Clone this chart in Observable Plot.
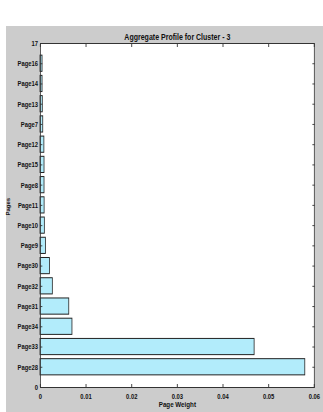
<!DOCTYPE html>
<html>
<head>
<meta charset="utf-8">
<script src="https://cdn.jsdelivr.net/npm/d3@7"></script>
<script src="https://cdn.jsdelivr.net/npm/@observablehq/plot@0.6"></script>
<style>
  html, body { margin: 0; padding: 0; background: #ffffff; }
  #wrap { position: relative; width: 323px; height: 412px; overflow: hidden; }
  #bg { position: absolute; left: 6px; top: 26px; right: 0; bottom: 0; background: #cccccc; }
  #chart { position: absolute; left: 0; top: 0; transform-origin: 0 0; }
  #chart svg { max-width: none !important; display: block; }
</style>
</head>
<body>
<div id="wrap"><div id="bg"></div><div id="chart"></div></div>
<script>
const title = "Aggregate Profile for Cluster - 3";
const xLabel = "Page Weight";
const yLabel = "Pages";
// bottom to top
const pages = ["Page28","Page33","Page34","Page31","Page32","Page30","Page9","Page10","Page11","Page8","Page15","Page12","Page7","Page13","Page14","Page16"];
const weights = [0.0580,0.0469,0.0070,0.0063,0.0027,0.0021,0.0012,0.00095,0.0009,0.00088,0.00088,0.00085,0.0006,0.0005,0.00045,0.00045];
const xTicks = [0,0.01,0.02,0.03,0.04,0.05,0.06];
const xTickLabels = ["0","0.01","0.02","0.03","0.04","0.05","0.06"];
const yTicks = d3.range(0, 18);
const yTickLabels = ["0", ...pages, "17"];

const data = pages.map((p, i) => ({page: p, pos: i + 1, w: weights[i]}));
const barHalf = 0.4;
const sx = 0.78; // horizontal compression of the original figure
const W = Math.round(323 / sx);
const font = "'Liberation Sans', Arial, Helvetica, sans-serif";

const chart = Plot.plot({
  width: W,
  height: 412,
  marginLeft: 40 / sx,
  marginRight: 9 / sx,
  marginTop: 43,
  marginBottom: 25,
  style: {background: "transparent", fontFamily: font, fontSize: "7.5px", fontWeight: "bold", color: "#111"},
  x: {domain: [0, 0.06]},
  y: {domain: [0, 17]},
  marks: [
    Plot.frame({fill: "white"}),
    Plot.rectX(data, {x1: 0, x2: "w", y1: d => d.pos - barHalf, y2: d => d.pos + barHalf, fill: "#b2ecfb", stroke: "#222", strokeWidth: 1}),
    Plot.axisX({anchor: "bottom", ticks: xTicks, tickSize: -3, tickPadding: 9, stroke: "#333",
      tickFormat: (d) => xTickLabels[xTicks.indexOf(d)] ?? "", label: null}),
    Plot.axisX({anchor: "top", ticks: xTicks, tickSize: -3, tickFormat: () => "", label: null, stroke: "#333"}),
    Plot.axisY({anchor: "left", ticks: yTicks, tickSize: -3, tickPadding: 6, stroke: "#333",
      tickFormat: (d) => yTickLabels[yTicks.indexOf(d)] ?? "", label: null}),
    Plot.axisY({anchor: "right", ticks: yTicks, tickSize: -3, tickFormat: () => "", label: null, stroke: "#333"}),
    Plot.frame({stroke: "#333", strokeWidth: 1}),
    Plot.text([title], {frameAnchor: "top", dy: -10, fontSize: 9, fontWeight: "bold", fill: "#111"}),
    Plot.text([xLabel], {frameAnchor: "bottom", dy: 19, fontSize: 8, fontWeight: "bold", fill: "#111"}),
    Plot.text([yLabel], {frameAnchor: "left", dx: -32 / sx, rotate: -90, fontSize: 6, fontWeight: "bold", fill: "#111"})
  ]
});
const holder = document.getElementById("chart");
holder.style.width = W + "px";
holder.style.transform = `scaleX(${sx})`;
holder.appendChild(chart);
</script>
</body>
</html>
